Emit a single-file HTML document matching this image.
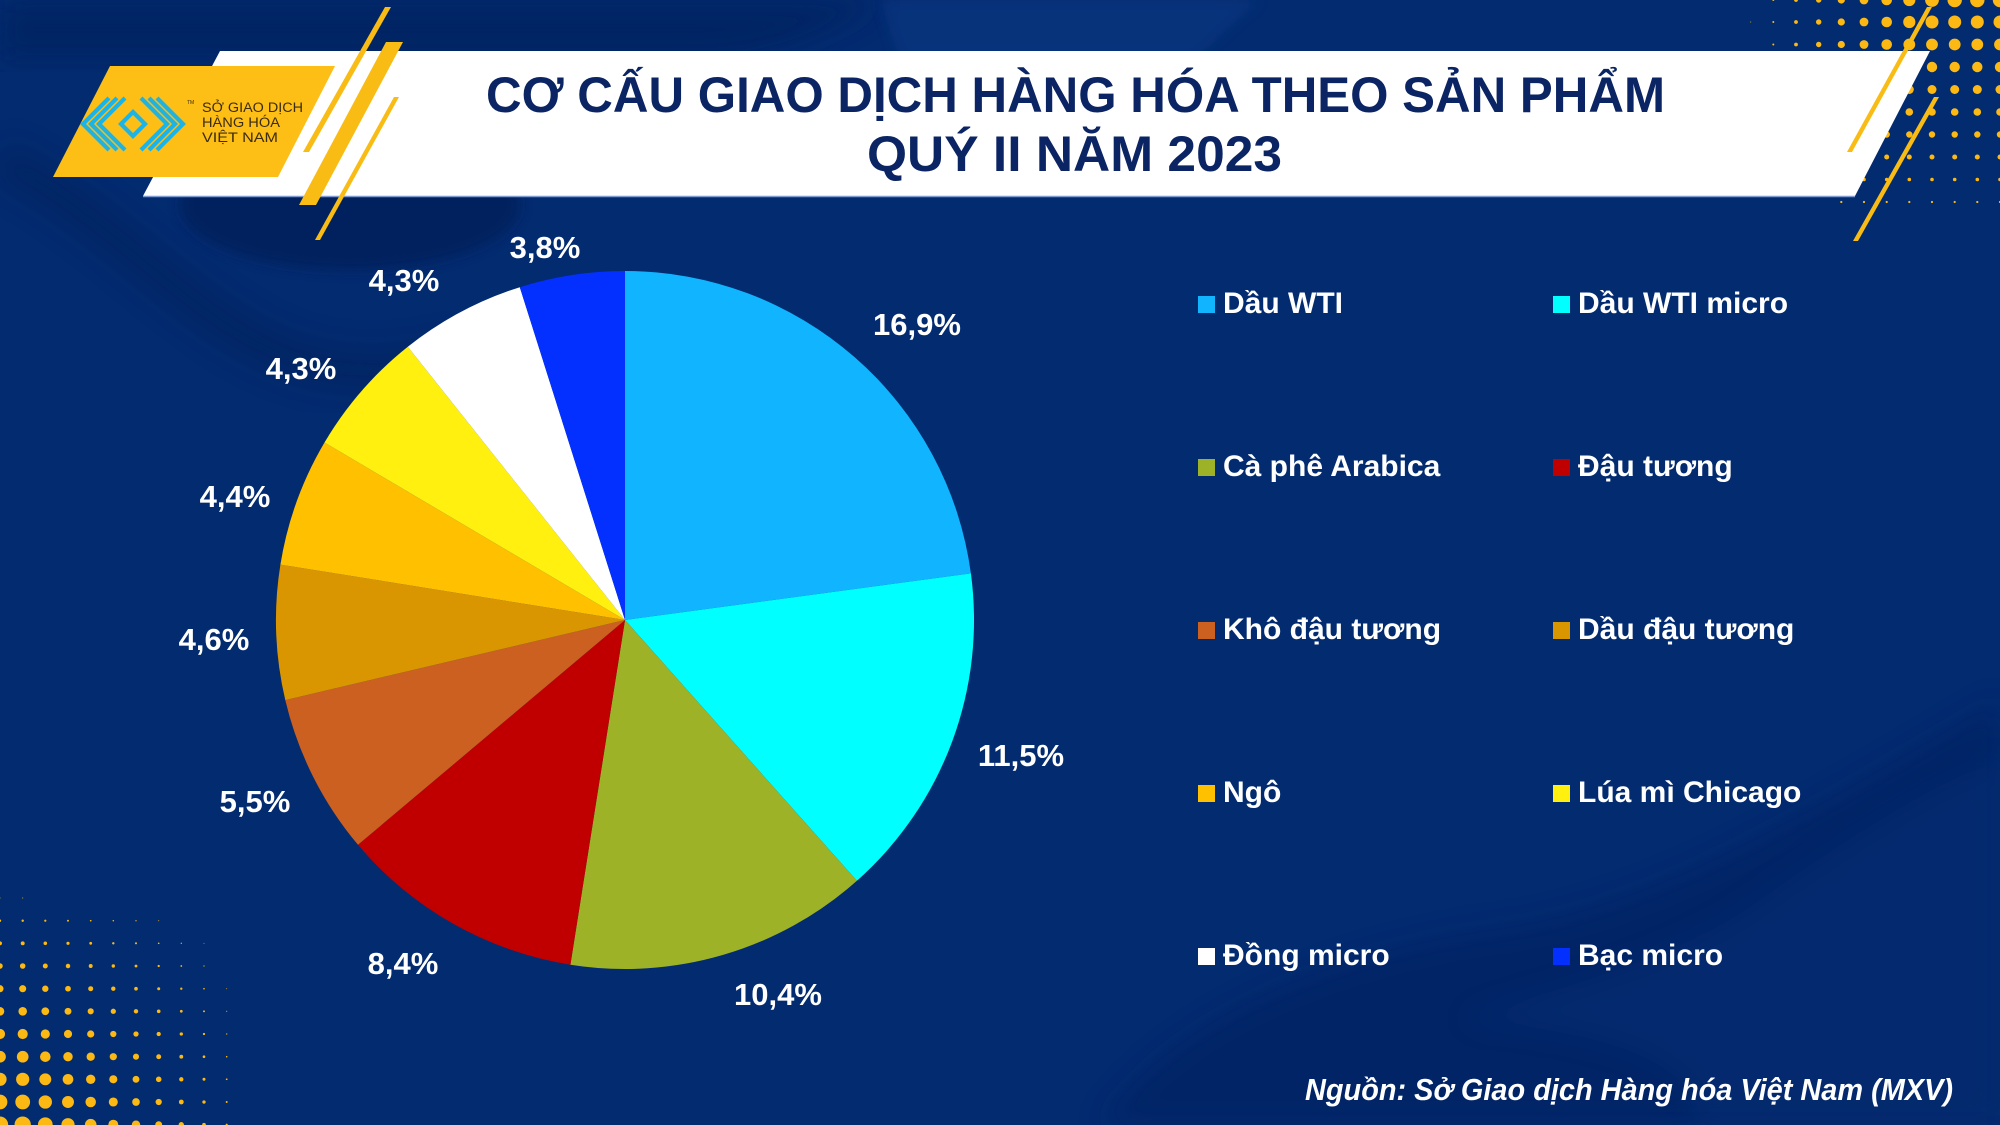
<!DOCTYPE html>
<html>
<head>
<meta charset="utf-8">
<style>
html,body{margin:0;padding:0;background:#032b70;}
svg{display:block;}
</style>
</head>
<body>
<svg width="2000" height="1125" viewBox="0 0 2000 1125" xmlns="http://www.w3.org/2000/svg">
<defs>
<filter id="blur" x="-20%" y="-20%" width="140%" height="140%"><feGaussianBlur stdDeviation="14"/></filter>
<filter id="blur2" x="-20%" y="-20%" width="140%" height="140%"><feGaussianBlur stdDeviation="6"/></filter>
</defs>
<!-- background -->
<rect x="0" y="0" width="2000" height="1125" fill="#032b70"/>
<path d="M0,0 H880 C820,40 760,60 700,60 H0 Z" fill="#04235f" opacity="0.7" filter="url(#blur)"/>
<path d="M880,0 H1260 C1230,25 1210,45 1195,60 H900 Z" fill="#0a3c8a" opacity="0.45" filter="url(#blur2)"/>
<ellipse cx="350" cy="205" rx="170" ry="65" fill="#021d55" opacity="0.65" filter="url(#blur2)"/>
<path d="M0,160 C120,220 200,330 300,360 C360,378 420,370 460,355" fill="none" stroke="#021c52" stroke-width="40" opacity="0.4" filter="url(#blur)"/>
<path d="M1100,1125 C1180,1010 1350,950 1500,930 C1650,910 1800,820 2000,700 V1125 Z" fill="#021f5c" opacity="0.45" filter="url(#blur)"/>
<path d="M1460,1020 C1550,990 1680,960 1760,900 C1860,830 1940,780 2000,760 V1125 H1700 C1700,1060 1600,1030 1460,1020 Z" fill="#0a3a86" opacity="0.25" filter="url(#blur)"/>

<!-- top-right dots -->
<g fill="#fdb913">
<circle cx="2000" cy="0" r="7.2"/><circle cx="1977.3" cy="0" r="7.2"/><circle cx="1954.7" cy="0" r="7.2"/><circle cx="1932" cy="0" r="6.9"/><circle cx="1909.3" cy="0" r="6.1"/><circle cx="1886.7" cy="0" r="5.3"/><circle cx="1864" cy="0" r="4.4"/><circle cx="1841.3" cy="0" r="3.6"/><circle cx="1818.7" cy="0" r="2.7"/><circle cx="1796" cy="0" r="1.9"/><circle cx="1773.3" cy="0" r="1.0"/>
<circle cx="2000" cy="22" r="6.5"/><circle cx="1977.3" cy="22" r="6.5"/><circle cx="1954.7" cy="22" r="6.5"/><circle cx="1932" cy="22" r="6.5"/><circle cx="1909.3" cy="22" r="6.1"/><circle cx="1886.7" cy="22" r="5.3"/><circle cx="1864" cy="22" r="4.4"/><circle cx="1841.3" cy="22" r="3.6"/><circle cx="1818.7" cy="22" r="2.7"/><circle cx="1796" cy="22" r="1.9"/><circle cx="1773.3" cy="22" r="1.0"/><circle cx="1750.7" cy="22" r="0.5"/>
<circle cx="2000" cy="44.5" r="5.9"/><circle cx="1977.3" cy="44.5" r="5.9"/><circle cx="1954.7" cy="44.5" r="5.9"/><circle cx="1932" cy="44.5" r="5.9"/><circle cx="1909.3" cy="44.5" r="5.9"/><circle cx="1886.7" cy="44.5" r="5.3"/><circle cx="1864" cy="44.5" r="4.4"/><circle cx="1841.3" cy="44.5" r="3.6"/><circle cx="1818.7" cy="44.5" r="2.7"/><circle cx="1796" cy="44.5" r="1.9"/><circle cx="1773.3" cy="44.5" r="1.0"/>
<circle cx="2000" cy="67" r="5.2"/><circle cx="1977.3" cy="67" r="5.2"/><circle cx="1954.7" cy="67" r="5.2"/><circle cx="1932" cy="67" r="5.2"/><circle cx="1909.3" cy="67" r="5.2"/>
<circle cx="2000" cy="89.5" r="4.5"/><circle cx="1977.3" cy="89.5" r="4.5"/><circle cx="1954.7" cy="89.5" r="4.5"/><circle cx="1932" cy="89.5" r="4.5"/><circle cx="1909.3" cy="89.5" r="4.5"/>
<circle cx="2000" cy="112" r="3.8"/><circle cx="1977.3" cy="112" r="3.8"/><circle cx="1954.7" cy="112" r="3.8"/><circle cx="1932" cy="112" r="3.8"/><circle cx="1909.3" cy="112" r="3.8"/><circle cx="1886.7" cy="112" r="3.8"/>
<circle cx="2000" cy="134.5" r="3.2"/><circle cx="1977.3" cy="134.5" r="3.2"/><circle cx="1954.7" cy="134.5" r="3.2"/><circle cx="1932" cy="134.5" r="3.2"/><circle cx="1909.3" cy="134.5" r="3.2"/><circle cx="1886.7" cy="134.5" r="3.2"/><circle cx="1864" cy="134.5" r="3.2"/>
<circle cx="2000" cy="157" r="2.5"/><circle cx="1977.3" cy="157" r="2.5"/><circle cx="1954.7" cy="157" r="2.5"/><circle cx="1932" cy="157" r="2.5"/><circle cx="1909.3" cy="157" r="2.5"/><circle cx="1886.7" cy="157" r="2.5"/><circle cx="1864" cy="157" r="2.5"/>
<circle cx="2000" cy="179.5" r="1.8"/><circle cx="1977.3" cy="179.5" r="1.8"/><circle cx="1954.7" cy="179.5" r="1.8"/><circle cx="1932" cy="179.5" r="1.8"/><circle cx="1909.3" cy="179.5" r="1.8"/><circle cx="1886.7" cy="179.5" r="1.8"/><circle cx="1864" cy="179.5" r="1.8"/><circle cx="1841.3" cy="179.5" r="1.8"/>
<circle cx="2000" cy="202" r="1.1"/><circle cx="1977.3" cy="202" r="1.1"/><circle cx="1954.7" cy="202" r="1.1"/><circle cx="1932" cy="202" r="1.1"/><circle cx="1909.3" cy="202" r="1.1"/><circle cx="1886.7" cy="202" r="1.1"/><circle cx="1864" cy="202" r="1.1"/><circle cx="1841.3" cy="202" r="1.1"/>
</g>

<!-- bottom-left dots -->
<g fill="#fdb913">
<circle cx="0" cy="898" r="0.5"/><circle cx="22.7" cy="898" r="0.5"/>
<circle cx="0" cy="920.7" r="1.21"/><circle cx="22.7" cy="920.7" r="1.21"/><circle cx="45.3" cy="920.7" r="1.09"/><circle cx="68" cy="920.7" r="0.98"/><circle cx="90.7" cy="920.7" r="0.86"/><circle cx="113.3" cy="920.7" r="0.74"/><circle cx="136" cy="920.7" r="0.63"/><circle cx="158.7" cy="920.7" r="0.51"/>
<circle cx="0" cy="943.3" r="1.98"/><circle cx="22.7" cy="943.3" r="1.98"/><circle cx="45.3" cy="943.3" r="1.79"/><circle cx="68" cy="943.3" r="1.6"/><circle cx="90.7" cy="943.3" r="1.41"/><circle cx="113.3" cy="943.3" r="1.22"/><circle cx="136" cy="943.3" r="1.03"/><circle cx="158.7" cy="943.3" r="0.83"/><circle cx="181.3" cy="943.3" r="0.64"/><circle cx="204" cy="943.3" r="0.45"/>
<circle cx="0" cy="966" r="2.75"/><circle cx="22.7" cy="966" r="2.75"/><circle cx="45.3" cy="966" r="2.49"/><circle cx="68" cy="966" r="2.22"/><circle cx="90.7" cy="966" r="1.96"/><circle cx="113.3" cy="966" r="1.69"/><circle cx="136" cy="966" r="1.42"/><circle cx="158.7" cy="966" r="1.16"/><circle cx="181.3" cy="966" r="0.89"/><circle cx="204" cy="966" r="0.63"/>
<circle cx="0" cy="988.7" r="3.53"/><circle cx="22.7" cy="988.7" r="3.53"/><circle cx="45.3" cy="988.7" r="3.19"/><circle cx="68" cy="988.7" r="2.85"/><circle cx="90.7" cy="988.7" r="2.51"/><circle cx="113.3" cy="988.7" r="2.17"/><circle cx="136" cy="988.7" r="1.83"/><circle cx="158.7" cy="988.7" r="1.49"/><circle cx="181.3" cy="988.7" r="1.15"/><circle cx="204" cy="988.7" r="0.8"/><circle cx="226.7" cy="988.7" r="0.47"/>
<circle cx="0" cy="1011.3" r="4.29"/><circle cx="22.7" cy="1011.3" r="4.29"/><circle cx="45.3" cy="1011.3" r="3.88"/><circle cx="68" cy="1011.3" r="3.46"/><circle cx="90.7" cy="1011.3" r="3.05"/><circle cx="113.3" cy="1011.3" r="2.63"/><circle cx="136" cy="1011.3" r="2.22"/><circle cx="158.7" cy="1011.3" r="1.81"/><circle cx="181.3" cy="1011.3" r="1.39"/><circle cx="204" cy="1011.3" r="0.98"/><circle cx="226.7" cy="1011.3" r="0.57"/>
<circle cx="0" cy="1034" r="5.07"/><circle cx="22.7" cy="1034" r="5.07"/><circle cx="45.3" cy="1034" r="4.58"/><circle cx="68" cy="1034" r="4.09"/><circle cx="90.7" cy="1034" r="3.6"/><circle cx="113.3" cy="1034" r="3.11"/><circle cx="136" cy="1034" r="2.63"/><circle cx="158.7" cy="1034" r="2.13"/><circle cx="181.3" cy="1034" r="1.65"/><circle cx="204" cy="1034" r="1.16"/><circle cx="226.7" cy="1034" r="0.67"/>
<circle cx="0" cy="1056.7" r="5.84"/><circle cx="22.7" cy="1056.7" r="5.84"/><circle cx="45.3" cy="1056.7" r="5.28"/><circle cx="68" cy="1056.7" r="4.71"/><circle cx="90.7" cy="1056.7" r="4.15"/><circle cx="113.3" cy="1056.7" r="3.59"/><circle cx="136" cy="1056.7" r="3.03"/><circle cx="158.7" cy="1056.7" r="2.46"/><circle cx="181.3" cy="1056.7" r="1.9"/><circle cx="204" cy="1056.7" r="1.33"/><circle cx="226.7" cy="1056.7" r="0.77"/>
<circle cx="0" cy="1079.3" r="6.6"/><circle cx="22.7" cy="1079.3" r="6.6"/><circle cx="45.3" cy="1079.3" r="5.97"/><circle cx="68" cy="1079.3" r="5.33"/><circle cx="90.7" cy="1079.3" r="4.69"/><circle cx="113.3" cy="1079.3" r="4.05"/><circle cx="136" cy="1079.3" r="3.42"/><circle cx="158.7" cy="1079.3" r="2.78"/><circle cx="181.3" cy="1079.3" r="2.15"/><circle cx="204" cy="1079.3" r="1.5"/><circle cx="226.7" cy="1079.3" r="0.87"/>
<circle cx="0" cy="1102" r="7.38"/><circle cx="22.7" cy="1102" r="7.38"/><circle cx="45.3" cy="1102" r="6.67"/><circle cx="68" cy="1102" r="5.96"/><circle cx="90.7" cy="1102" r="5.25"/><circle cx="113.3" cy="1102" r="4.53"/><circle cx="136" cy="1102" r="3.82"/><circle cx="158.7" cy="1102" r="3.11"/><circle cx="181.3" cy="1102" r="2.4"/><circle cx="204" cy="1102" r="1.68"/><circle cx="226.7" cy="1102" r="0.97"/>
<circle cx="0" cy="1124.7" r="8.15"/><circle cx="22.7" cy="1124.7" r="8.15"/><circle cx="45.3" cy="1124.7" r="7.37"/><circle cx="68" cy="1124.7" r="6.58"/><circle cx="90.7" cy="1124.7" r="5.79"/><circle cx="113.3" cy="1124.7" r="5.0"/><circle cx="136" cy="1124.7" r="4.22"/><circle cx="158.7" cy="1124.7" r="3.43"/><circle cx="181.3" cy="1124.7" r="2.65"/><circle cx="204" cy="1124.7" r="1.86"/><circle cx="226.7" cy="1124.7" r="1.08"/>
</g>

<!-- white banner -->
<polygon points="220,51 1930,51 1855,196 143,196" fill="#ffffff"/>
<line x1="143" y1="196.5" x2="1855" y2="196.5" stroke="#7d9bd0" stroke-width="1.5"/>

<!-- logo yellow block -->
<polygon points="110,66 335,66 278,177 53,177" fill="#fdbe16"/>
<g fill="none" stroke="#1cb4e6" stroke-width="4.2" stroke-linejoin="miter">
<polyline points="109,98 83,124 109,150"/>
<polyline points="117,98 91,124 117,150"/>
<polyline points="125,98 99,124 125,150"/>
<polyline points="157,98 183,124 157,150"/>
<polyline points="149,98 175,124 149,150"/>
<polyline points="141,98 167,124 141,150"/>
<polygon points="133,112 145,124 133,136 121,124"/>
</g>
<text x="187" y="104" font-family="Liberation Sans, sans-serif" font-size="5" fill="#3b2c12">TM</text>
<g font-family="Liberation Sans, sans-serif" font-size="13.5" fill="#3b2c12">
<text x="202" y="112" textLength="101" lengthAdjust="spacingAndGlyphs">SỞ GIAO DỊCH</text>
<text x="202" y="127" textLength="78" lengthAdjust="spacingAndGlyphs">HÀNG HÓA</text>
<text x="202" y="142" textLength="76" lengthAdjust="spacingAndGlyphs">VIỆT NAM</text>
</g>

<!-- yellow stripes -->
<g fill="#f9bc15">
<polygon points="385,7 391,7 309,152 303,152"/>
<polygon points="386,42 403,42 316,205 299,205"/>
<polygon points="394,97 399,97 320,240 315,240"/>
<polygon points="1927,7 1932,7 1852,152 1847,152"/>
<polygon points="1934,97 1939,97 1858,241 1853,241"/>
</g>

<!-- title -->
<g font-family="Liberation Sans, sans-serif" font-weight="bold" font-size="50" fill="#0b2463">
<text x="486" y="112" textLength="1179" lengthAdjust="spacingAndGlyphs">CƠ CẤU GIAO DỊCH HÀNG HÓA THEO SẢN PHẨM</text>
<text x="867" y="171" textLength="415" lengthAdjust="spacingAndGlyphs">QUÝ II NĂM 2023</text>
</g>

<!-- pie -->
<g>
<path d="M625,620 L625,271 A349,349 0 0 1 970.9,573.4 Z" fill="#10b4ff"/>
<path d="M625,620 L970.9,573.4 A349,349 0 0 1 856.9,880.8 Z" fill="#00ffff"/>
<path d="M625,620 L856.9,880.8 A349,349 0 0 1 570.4,964.7 Z" fill="#9eb228"/>
<path d="M625,620 L570.4,964.7 A349,349 0 0 1 358.0,844.8 Z" fill="#c00000"/>
<path d="M625,620 L358.0,844.8 A349,349 0 0 1 285.3,700.1 Z" fill="#cc6020"/>
<path d="M625,620 L285.3,700.1 A349,349 0 0 1 280.4,564.6 Z" fill="#da9600"/>
<path d="M625,620 L280.4,564.6 A349,349 0 0 1 324.5,442.5 Z" fill="#ffc000"/>
<path d="M625,620 L324.5,442.5 A349,349 0 0 1 407.8,346.8 Z" fill="#fff00f"/>
<path d="M625,620 L407.8,346.8 A349,349 0 0 1 519.8,287.2 Z" fill="#ffffff"/>
<path d="M625,620 L519.8,287.2 A349,349 0 0 1 625,271 Z" fill="#0430ff"/>
</g>

<!-- pie labels -->
<g font-family="Liberation Sans, sans-serif" font-weight="bold" font-size="31" fill="#ffffff" text-anchor="middle">
<text x="917" y="335">16,9%</text>
<text x="1021" y="766">11,5%</text>
<text x="778" y="1005">10,4%</text>
<text x="403" y="974">8,4%</text>
<text x="255" y="812">5,5%</text>
<text x="214" y="650">4,6%</text>
<text x="235" y="507">4,4%</text>
<text x="301" y="379">4,3%</text>
<text x="404" y="291">4,3%</text>
<text x="545" y="258">3,8%</text>
</g>

<!-- legend -->
<g>
<rect x="1198" y="296" width="17" height="17" fill="#10b4ff"/>
<rect x="1553" y="296" width="17" height="17" fill="#00ffff"/>
<rect x="1198" y="459" width="17" height="17" fill="#9eb228"/>
<rect x="1553" y="459" width="17" height="17" fill="#c00000"/>
<rect x="1198" y="622" width="17" height="17" fill="#cc6020"/>
<rect x="1553" y="622" width="17" height="17" fill="#da9600"/>
<rect x="1198" y="785" width="17" height="17" fill="#ffc000"/>
<rect x="1553" y="785" width="17" height="17" fill="#fff00f"/>
<rect x="1198" y="948" width="17" height="17" fill="#ffffff"/>
<rect x="1553" y="948" width="17" height="17" fill="#0430ff"/>
</g>
<g font-family="Liberation Sans, sans-serif" font-weight="bold" font-size="30" fill="#ffffff">
<text x="1223" y="313">Dầu WTI</text>
<text x="1578" y="313">Dầu WTI micro</text>
<text x="1223" y="476">Cà phê Arabica</text>
<text x="1578" y="476">Đậu tương</text>
<text x="1223" y="639">Khô đậu tương</text>
<text x="1578" y="639">Dầu đậu tương</text>
<text x="1223" y="802">Ngô</text>
<text x="1578" y="802">Lúa mì Chicago</text>
<text x="1223" y="965">Đồng micro</text>
<text x="1578" y="965">Bạc micro</text>
</g>

<!-- source -->
<text x="1305" y="1100" font-family="Liberation Sans, sans-serif" font-weight="bold" font-style="italic" font-size="31" fill="#ffffff" textLength="648" lengthAdjust="spacingAndGlyphs">Nguồn: Sở Giao dịch Hàng hóa Việt Nam (MXV)</text>
</svg>
</body>
</html>
